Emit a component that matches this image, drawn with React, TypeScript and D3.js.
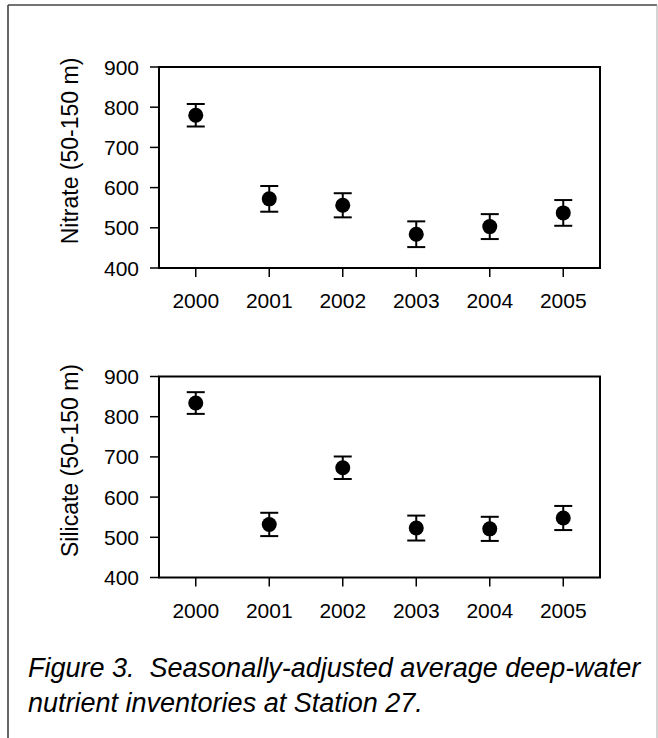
import React from "react";
import * as d3 from "d3";

const years = [2000, 2001, 2002, 2003, 2004, 2005];
const yTicks = [400, 500, 600, 700, 800, 900];

const nitrateMean = [780, 572, 556, 484, 503, 537];
const nitrateErr = [28, 32, 30, 32, 31, 32];

const silicateMean = [834, 532, 673, 523, 521, 548];
const silicateErr = [27, 29, 28, 31, 30, 30];

const panelLabels = ["Nitrate (50-150 m)", "Silicate (50-150 m)"];
const captionLines = [
  "Figure 3.  Seasonally-adjusted average deep-water",
  "nutrient inventories at Station 27.",
];

const W = 658;
const H = 738;
const FONT = "'Liberation Sans', Arial, Helvetica, sans-serif";

function Panel({ top, label, means, errs }: { top: number; label: string; means: number[]; errs: number[] }) {
  const left = 159;
  const right = 600;
  const bottom = top + 201;
  const x = d3.scaleLinear().domain([1999.5, 2005.5]).range([left, right]);
  const y = d3.scaleLinear().domain([400, 900]).range([bottom, top]);
  const cap = 9;
  return (
    <g>
      <rect x={left} y={top} width={right - left} height={bottom - top} fill="none" stroke="#000" strokeWidth={2} />
      {yTicks.map((t) => (
        <g key={"y" + t}>
          <line x1={left - 9} x2={left} y1={y(t)} y2={y(t)} stroke="#000" strokeWidth={1.5} />
          <text x={left - 20} y={y(t)} dy="0.36em" textAnchor="end" fontSize={21} fontFamily={FONT}>
            {t}
          </text>
        </g>
      ))}
      {years.map((yr) => (
        <g key={"x" + yr}>
          <line x1={x(yr)} x2={x(yr)} y1={bottom} y2={bottom + 9} stroke="#000" strokeWidth={1.5} />
          <text x={x(yr)} y={bottom + 40} textAnchor="middle" fontSize={21} fontFamily={FONT}>
            {yr}
          </text>
        </g>
      ))}
      <text
        transform={`translate(78,${top + 84}) rotate(-90)`}
        textAnchor="middle"
        fontSize={23}
        fontFamily={FONT}
      >
        {label}
      </text>
      {years.map((yr, i) => {
        const cx = x(yr);
        const hi = y(means[i] + errs[i]);
        const lo = y(means[i] - errs[i]);
        return (
          <g key={"p" + yr}>
            <line x1={cx} x2={cx} y1={hi} y2={lo} stroke="#000" strokeWidth={2} />
            <line x1={cx - cap} x2={cx + cap} y1={hi} y2={hi} stroke="#000" strokeWidth={2} />
            <line x1={cx - cap} x2={cx + cap} y1={lo} y2={lo} stroke="#000" strokeWidth={2} />
            <circle cx={cx} cy={y(means[i])} r={7.5} fill="#000" />
          </g>
        );
      })}
    </g>
  );
}

export default function App() {
  return (
    <svg width={W} height={H} style={{ position: "absolute", left: 0, top: 0, background: "#fff" }}>
      <rect x={0} y={0} width={W} height={H} fill="#fff" />
      <line x1={8} x2={8} y1={5} y2={H} stroke="#333" strokeWidth={1.5} />
      <line x1={8} x2={657} y1={5} y2={5} stroke="#444" strokeWidth={1.5} />
      <line x1={657} x2={657} y1={5} y2={H} stroke="#aaa" strokeWidth={1} />
      <Panel top={67} label={panelLabels[0]} means={nitrateMean} errs={nitrateErr} />
      <Panel top={376.5} label={panelLabels[1]} means={silicateMean} errs={silicateErr} />
      {captionLines.map((line, i) => (
        <text
          key={i}
          x={28}
          y={677 + i * 35}
          fontSize={27}
          fontStyle="italic"
          fontFamily={FONT}
          style={{ whiteSpace: "pre" }}
        >
          {line}
        </text>
      ))}
    </svg>
  );
}
